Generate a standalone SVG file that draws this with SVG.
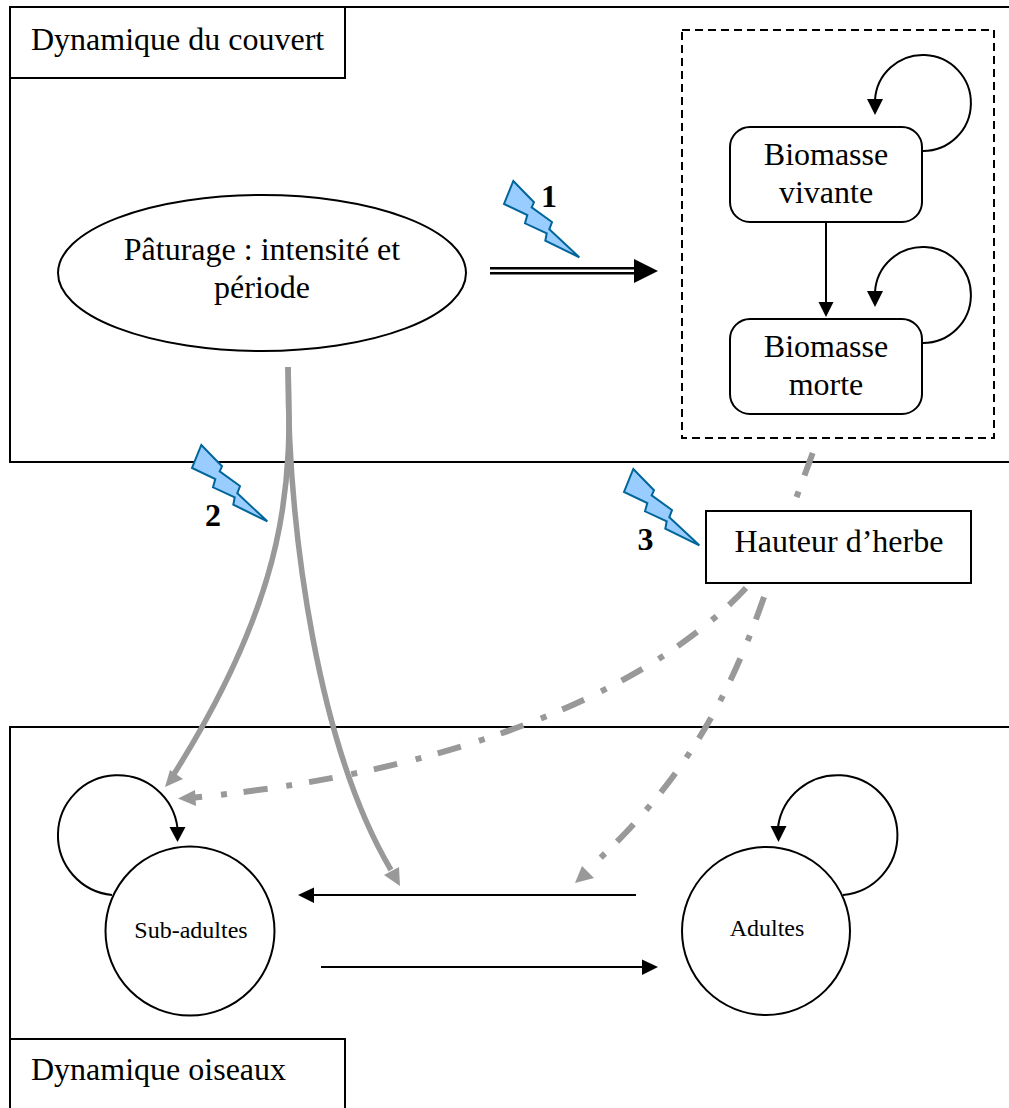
<svg xmlns="http://www.w3.org/2000/svg" width="1009" height="1108" viewBox="0 0 1009 1108">
<style>
text{font-family:"Liberation Serif","Times New Roman",serif;fill:#000;text-anchor:middle}
.t{font-size:32px}
.s{font-size:24px}
.b{font-size:32px;font-weight:bold}
.o{fill:#fff;stroke:#000;stroke-width:2}
.l{fill:none;stroke:#000;stroke-width:2}
.g{fill:none;stroke:#999;stroke-width:5.500}
.d{fill:none;stroke:#999;stroke-width:6;stroke-dasharray:24 17 6 19}
.f{fill:#000;stroke:none}
.h{fill:#999;stroke:none}
.bolt{fill:#99ccff;stroke:#006699;stroke-width:2;stroke-linejoin:miter}
</style>
<defs>
<polygon id="bolt" class="bolt" points="9.3,0 30,21.3 27.7,26.3 48,41 45.3,48.3 75.3,76.3 41.3,59.7 42.7,52.3 21,42.3 23.3,34 0,23"/>
</defs>
<g id="frame-couvert">
<path class="l" d="M1009 7H10V462H1009"/>
<rect class="o" x="10" y="7" width="335" height="71"/>
<text class="t" x="31" y="50" style="text-anchor:start">Dynamique du couvert</text>
</g>
<g id="frame-oiseaux">
<path class="l" d="M1009 727H10V1108"/>
</g>
<g id="paturage">
<ellipse class="o" cx="262" cy="273" rx="204" ry="78"/>
<text class="t" x="262" y="260">Pâturage : intensité et</text>
<text class="t" x="262" y="298">période</text>
</g>
<g id="biomasse-box">
<rect x="682" y="30" width="312" height="408" fill="none" stroke="#000" stroke-width="2" stroke-dasharray="8 5"/>
</g>
<g id="biomasse-vivante">
<rect class="o" x="730" y="127" width="192" height="95" rx="20"/>
<text class="t" x="826" y="165">Biomasse</text>
<text class="t" x="826" y="203">vivante</text>
</g>
<g id="biomasse-morte">
<rect class="o" x="730" y="319" width="192" height="95" rx="20"/>
<text class="t" x="826" y="357">Biomasse</text>
<text class="t" x="826" y="395">morte</text>
</g>
<g id="hauteur">
<rect class="o" x="706" y="511" width="265" height="72"/>
<text class="t" x="839" y="552">Hauteur d’herbe</text>
</g>
<g id="sub-adultes">
<circle class="o" cx="190" cy="931" r="84.500"/>
<text class="s" x="191" y="938">Sub-adultes</text>
</g>
<g id="adultes">
<circle class="o" cx="766" cy="931" r="84"/>
<text class="s" x="767" y="936">Adultes</text>
</g>
<g id="title-oiseaux">
<rect class="o" x="10" y="1039" width="335" height="70"/>
<text class="t" x="31" y="1080" style="text-anchor:start">Dynamique oiseaux</text>
</g>
<g id="bolts">
<use href="#bolt" x="504" y="181"/>
<use href="#bolt" x="192" y="445"/>
<use href="#bolt" x="624" y="469"/>
<text class="b" x="549" y="207">1</text>
<text class="b" x="213" y="526">2</text>
<text class="b" x="645.500" y="550">3</text>
</g>
<g id="connectors">
<path class="l" d="M923 151A48 48 0 1 0 875 100"/>
<polygon class="f" points="867,99 883,99 875,115"/>
<path class="l" d="M923 343A48 48 0 1 0 875 292"/>
<polygon class="f" points="867,291 883,291 875,307"/>
<path class="l" d="M826 222V303"/>
<polygon class="f" points="818.500,302 833.500,302 826,317"/>
<path class="l" d="M490 268.300H636M490 273.300H636" style="stroke-width:2.500"/>
<polygon class="f" points="634,259 658,271 634,283"/>
<path class="g" d="M288 367C292 480 290 590 174 774"/>
<polygon class="h" points="165,787 170,770 183,779"/>
<path class="g" d="M288 367C288 540 320 750 391 870"/>
<polygon class="h" points="400,886 384,875 399,867"/>
<path class="d" d="M746 588C660 680 480 770 190 798"/>
<polygon class="h" points="178,798.500 195,790 196,806"/>
<path class="d" d="M764 597C735 680 695 770 596 862"/>
<polygon class="h" points="575,883 582,866 594,878"/>
<path class="d" d="M812.700 453L794 504"/>
<path class="l" d="M112 895A60 60 0 1 1 177.500 828"/>
<polygon class="f" points="169.500,827 185.500,827 177.500,842"/>
<path class="l" d="M843 895A60 60 0 1 0 778 827"/>
<polygon class="f" points="770.500,826 786.500,826 778.500,842"/>
<path class="l" d="M636 895H314"/>
<polygon class="f" points="298,895 314,887.500 314,903"/>
<path class="l" d="M321 967H644"/>
<polygon class="f" points="658,967 642,959.500 642,975"/>
</g>
</svg>
